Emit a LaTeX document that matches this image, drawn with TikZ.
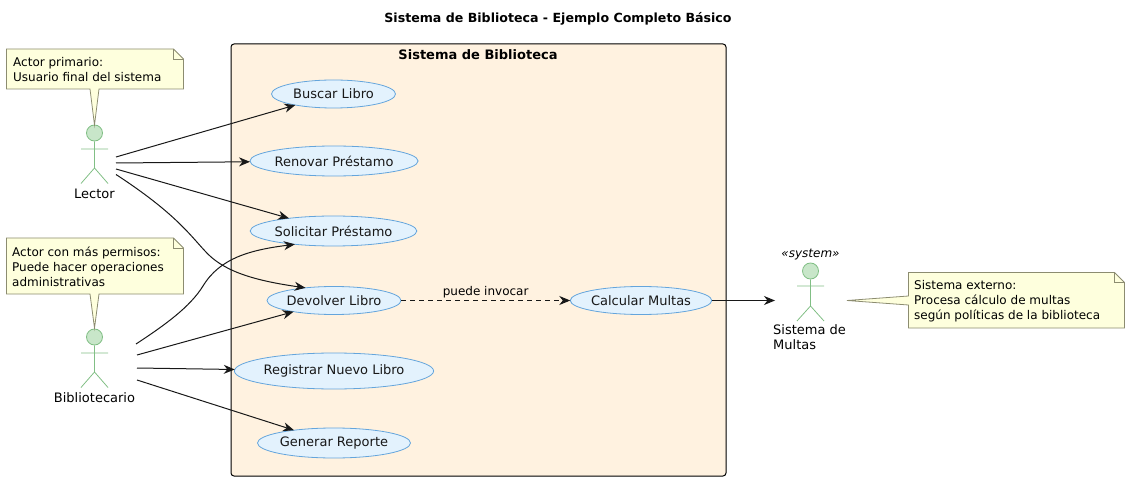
\documentclass[tikz,border=0pt]{standalone}
\usepackage{fontspec}
\setmainfont{DejaVu Sans}
\usetikzlibrary{arrows.meta,shapes.geometric}
\definecolor{frameFill}{HTML}{FFF2E0}
\definecolor{ucFill}{HTML}{E3F2FD}
\definecolor{ucLine}{HTML}{64A5DC}
\definecolor{actFill}{HTML}{C8E6C9}
\definecolor{actLine}{HTML}{81BF85}
\definecolor{noteFill}{HTML}{FEFFDD}
\definecolor{noteLine}{HTML}{8C8C70}
\definecolor{ink}{HTML}{181818}
\tikzset{
  x=1pt,y=-1pt,
  usecase/.style={ellipse,draw=ucLine,fill=ucFill,line width=.8pt,inner sep=0pt,outer sep=0pt,minimum width=2*#1,font=\fontsize{13}{15}\selectfont,text=ink},
  conn/.style={draw=ink,line width=1pt,-{Stealth[length=11pt,width=9pt,inset=3.5pt]}},
  actorline/.style={draw=actLine,line width=.8pt},
  actorhead/.style={circle,draw=actLine,fill=actFill,line width=.8pt,minimum size=16pt,inner sep=0pt},
  actorname/.style={font=\fontsize{13}{15}\selectfont,text=black,inner sep=0pt},
  notebody/.style={draw=noteLine,fill=noteFill,line width=.8pt,line join=miter},
  notetext/.style={anchor=west,align=left,inner sep=0pt,font=\fontsize{12}{15}\selectfont,text=black},
}
\begin{document}
\begin{tikzpicture}
\useasboundingbox (0,0) rectangle (1130,481);
\node[font=\bfseries\fontsize{12.6}{15}\selectfont,text=black] (title) at (558,19) {Sistema de Biblioteca - Ejemplo Completo Básico};
\draw[black,fill=frameFill,line width=1pt,rounded corners=3pt] (231,44) rectangle (726,476);
\node[font=\bfseries\fontsize{13}{15}\selectfont,text=black] (frametitle) at (478,55) {Sistema de Biblioteca};
% use cases
\node[usecase=62pt,minimum height=28pt] (buscar) at (333.5,94) {Buscar Libro};
\node[usecase=77pt,minimum height=30pt] (renovar) at (334,161) {Renovar Préstamo};
\node[usecase=76pt,minimum height=30pt] (solicitar) at (333.5,231) {Solicitar Préstamo};
\node[usecase=67pt,minimum height=28pt] (devolver) at (334,300.5) {Devolver Libro};
\node[usecase=88pt,minimum height=36pt] (registrar) at (334,371) {Registrar Nuevo Libro};
\node[usecase=72pt,minimum height=30pt] (generar) at (334,443) {Generar Reporte};
\node[usecase=68pt,minimum height=28pt] (calcular) at (641,300.5) {Calcular Multas};
% actors
\node[actorhead] (lector) at (94.5,133) {};
\draw[actorline] (lector.south) -- (94.5,168) -- (81,183.5) (94.5,168) -- (108,183.5) (81,149) -- (108,149);
\node[actorname] (lectorname) at (94.5,194) {Lector};
\node[actorhead] (biblio) at (94.5,337) {};
\draw[actorline] (biblio.south) -- (94.5,372) -- (81,387.5) (94.5,372) -- (108,387.5) (81,353) -- (108,353);
\node[actorname] (biblioname) at (94.5,398) {Bibliotecario};
\node[actorhead] (multas) at (810.5,271) {};
\draw[actorline] (multas.south) -- (810.5,306) -- (797,321) (810.5,306) -- (824,321) (797,286) -- (824,286);
\node[font=\itshape\fontsize{12}{15}\selectfont,text=black,inner sep=0pt] (stereo) at (810.5,255) {«system»};
\node[actorname,anchor=north west,align=left,font=\fontsize{13}{15}\selectfont] (multasname) at (773,324) {Sistema de\\Multas};
% free ends
\coordinate (l1) at (116,157);
\coordinate (l2) at (116,163);
\coordinate (l3) at (116,169);
\coordinate (l4) at (116,174.5);
\coordinate (b1) at (136,344);
\coordinate (b2) at (137,355);
\coordinate (b3) at (137,368);
\coordinate (b4) at (137,380);
\coordinate (sysin) at (775,300.5);
\draw[conn] (l1) -- (buscar);
\draw[conn] (l2) -- (renovar);
\draw[conn] (l3) -- (solicitar);
\draw[conn] (l4) .. controls (175,213) and (190,235) .. (205,251) .. controls (222,270) and (250,280) .. (devolver.156);
\draw[conn] (b1) .. controls (165,325) and (190,307) .. (203,286) .. controls (220,258) and (250,250) .. (solicitar.199);
\draw[conn] (b2) -- (devolver);
\draw[conn] (b3) -- (registrar);
\draw[conn] (b4) -- (generar);
\draw[conn,dashed,dash pattern=on 5pt off 4pt] (devolver) -- node[above,pos=.5,font=\fontsize{12}{14}\selectfont,text=black,inner sep=2pt] (invocar) {puede invocar} (calcular);
\draw[conn] (calcular) -- (sysin);
% notes
\draw[notebody] (6.5,49) -- (173.5,49) -- (183.5,59) -- (183.5,89) -- (99,89) -- (94.5,125) -- (90,89) -- (6.5,89) -- cycle;
\draw[noteLine,line width=.8pt] (173.5,49) -- (173.5,59) -- (183.5,59);
\node[notetext] (n1) at (13,70) {Actor primario:\\Usuario final del sistema};
\draw[notebody] (6.5,238) -- (173.5,238) -- (183.5,248) -- (183.5,294) -- (99,294) -- (94.5,328) -- (90,294) -- (6.5,294) -- cycle;
\draw[noteLine,line width=.8pt] (173.5,238) -- (173.5,248) -- (183.5,248);
\node[notetext] (n2) at (12,267) {Actor con más permisos:\\Puede hacer operaciones\\administrativas};
\draw[notebody] (908.5,272.5) -- (1114.5,272.5) -- (1124.5,282.5) -- (1124.5,328) -- (908.5,328) -- (908.5,305) -- (847,300.5) -- (908.5,296) -- cycle;
\draw[noteLine,line width=.8pt] (1114.5,272.5) -- (1114.5,282.5) -- (1124.5,282.5);
\node[notetext] (n3) at (914,301) {Sistema externo:\\Procesa cálculo de multas\\según políticas de la biblioteca};
\end{tikzpicture}
\end{document}
